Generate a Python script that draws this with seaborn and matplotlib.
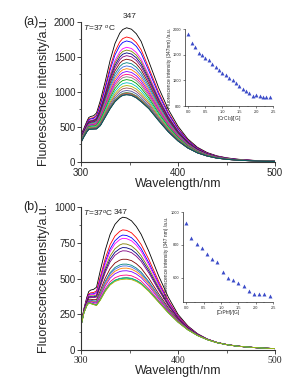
import numpy as np
import pandas as pd
import seaborn as sns
import matplotlib.pyplot as plt
from matplotlib.ticker import MultipleLocator

sns.set_style('ticks')
plt.rcParams['font.family'] = ['Liberation Sans', 'DejaVu Sans']
plt.rcParams['mathtext.fontset'] = 'custom'
plt.rcParams['mathtext.it'] = 'Liberation Sans:italic'
plt.rcParams['mathtext.rm'] = 'Liberation Sans'

# ---- datos ----
# longitudes de onda (nm)
wl = [300, 303, 306, 308, 310, 313, 316, 320, 325, 330, 335, 340, 343, 347, 352,
      357, 362, 370, 380, 390, 400, 410, 420, 430, 440, 450, 460, 470, 480, 490, 500]

# (a) curva superior e inferior
a_top = [390, 480, 580, 635, 650, 660, 700, 880, 1150, 1450, 1690, 1840, 1890, 1915, 1895,
         1830, 1720, 1430, 1060, 750, 510, 330, 210, 135, 88, 60, 42, 30, 22, 16, 12]
a_bot = [280, 360, 430, 465, 468, 470, 472, 520, 640, 760, 860, 925, 950, 960, 950,
         915, 860, 760, 590, 430, 300, 200, 130, 85, 55, 38, 27, 20, 15, 11, 9]

# (a) intensidades en el maximo (inserto)
ratio_a = [0.0, 0.1, 0.2, 0.3, 0.4, 0.5, 0.6, 0.7, 0.8, 0.9, 1.0, 1.1, 1.2,
           1.3, 1.4, 1.5, 1.6, 1.7, 1.8, 1.9, 2.0, 2.1, 2.2, 2.3, 2.4]
peak_a = [1920, 1785, 1727, 1634, 1593, 1552, 1511, 1459, 1408, 1361, 1320, 1279, 1238,
          1202, 1160, 1114, 1073, 1037, 1000, 965, 970, 954, 944, 938, 938]

# (b) curva superior e inferior
b_top = [175, 290, 370, 410, 420, 425, 440, 560, 700, 810, 880, 918, 930, 925, 905,
         865, 810, 690, 520, 370, 250, 170, 115, 78, 54, 39, 29, 22, 17, 13, 10]
b_bot = [170, 260, 310, 330, 325, 318, 312, 350, 410, 455, 480, 492, 495, 497, 493,
         480, 460, 410, 335, 260, 195, 142, 102, 73, 52, 38, 28, 22, 17, 13, 10]

ratio_b = [0.0, 0.15, 0.3, 0.45, 0.6, 0.75, 0.9, 1.05, 1.2, 1.35, 1.5, 1.65, 1.8,
           1.95, 2.1, 2.25, 2.4]
peak_b = [932, 842, 805, 782, 743, 716, 693, 633, 598, 585, 569, 550, 519, 500, 498, 498, 490]

colores = ['#000000', '#FF0000', '#0000FF', '#FF00FF', '#808000', '#000080', '#800080',
           '#800000', '#008080', '#4169E1', '#FF8000', '#8000FF', '#FF0080', '#808080',
           '#00A000', '#00C0C0', '#B0B000', '#A05050', '#5050A0', '#A000A0', '#50A050',
           '#C06000', '#6060C0', '#404040', '#006060']


def espectros(top, bot, peaks):
    # cada espectro entre la curva superior e inferior segun su maximo
    top = np.array(top, float)
    bot = np.array(bot, float)
    filas = []
    for i, p in enumerate(peaks):
        f = (p - min(peaks)) / (max(peaks) - min(peaks))
        y = bot + (top - bot) * f
        for w, v in zip(wl, y):
            filas.append({'wl': w, 'I': v, 'serie': i})
    return pd.DataFrame(filas)


fig = plt.figure(figsize=(3.08, 3.83), dpi=100)


def panel(pos, df, n, ymax, ymaj, letra, ttxt, tx, pk_xy, serif_x=False):
    ax = fig.add_axes(pos)
    sns.lineplot(data=df, x='wl', y='I', hue='serie', palette=colores[:n],
                 lw=0.6, legend=False, ax=ax)
    ax.set_xlim(300, 500)
    ax.set_ylim(0, ymax)
    ax.xaxis.set_major_locator(MultipleLocator(100))
    ax.xaxis.set_minor_locator(MultipleLocator(50))
    ax.yaxis.set_major_locator(MultipleLocator(ymaj))
    ax.yaxis.set_minor_locator(MultipleLocator(ymaj / 2))
    sns.despine(ax=ax)
    for s in ['left', 'bottom']:
        ax.spines[s].set_linewidth(0.8)
        ax.spines[s].set_color('#333333')
    ax.tick_params(which='major', length=3, width=0.6, labelsize=7, pad=1)
    ax.tick_params(which='minor', length=1.8, width=0.5)
    if serif_x:
        for t in ax.get_xticklabels():
            t.set_family('Liberation Serif')
    ax.set_xlabel('Wavelength/nm', fontsize=9, labelpad=0)
    ax.set_ylabel('Fluorescence intensity/a.u.', fontsize=9, labelpad=3)
    ax.text(-0.30, 1.0, letra, transform=ax.transAxes, fontsize=9, va='center')
    ax.text(tx[0], tx[1], ttxt, transform=ax.transAxes, fontsize=6, va='center')
    ax.text(pk_xy[0], pk_xy[1], '347', transform=ax.transAxes, fontsize=6,
            va='center', ha='center')
    return ax


def inserto(pos, x, y, ylim, yticks, xlab, ylab):
    ax = fig.add_axes(pos)
    ax.patch.set_alpha(0)
    sns.scatterplot(x=x, y=y, marker='^', color='#3B4BC8', s=8, linewidth=0, ax=ax)
    ax.set_xlim(-0.1, 2.5)
    ax.set_ylim(*ylim)
    ax.set_xticks([0.0, 0.5, 1.0, 1.5, 2.0, 2.5])
    ax.xaxis.set_minor_locator(MultipleLocator(0.25))
    ax.set_yticks(yticks)
    sns.despine(ax=ax)
    for s in ['left', 'bottom']:
        ax.spines[s].set_linewidth(0.5)
    ax.tick_params(which='major', length=1.5, width=0.4, labelsize=2.8, pad=1)
    ax.tick_params(which='minor', length=0.8, width=0.3)
    ax.xaxis.set_major_formatter(lambda v, p: f'{v:.1f}')
    ax.set_xlabel(xlab, fontsize=3.5, labelpad=0.5)
    ax.set_ylabel(ylab, fontsize=3.5, labelpad=0.8)


df_a = espectros(a_top, a_bot, peak_a)
panel([0.263, 0.577, 0.630, 0.366], df_a, len(peak_a), 2000, 500, '(a)',
      r'$T$=37 $^o$C', (0.01, 0.955), (0.25, 1.035))
inserto([0.601, 0.723, 0.286, 0.201], ratio_a, peak_a, (800, 2000),
        [800, 1200, 1600, 2000], r'[CrCl$_3$]/[G]',
        'Fluorescence intensity (347nm) /a.u.')

df_b = espectros(b_top, b_bot, peak_b)
panel([0.263, 0.086, 0.630, 0.373], df_b, len(peak_b), 1000, 250, '(b)',
      r'$T$=37$^o$C', (0.01, 0.96), (0.205, 0.96), serif_x=True)
inserto([0.593, 0.211, 0.294, 0.235], ratio_b, peak_b, (450, 1000),
        [600, 800, 1000], '[CrPhf]/[G]',
        'Fluorescence intensity (347 nm) /a.u.')

plt.savefig('out.png', dpi=100)
